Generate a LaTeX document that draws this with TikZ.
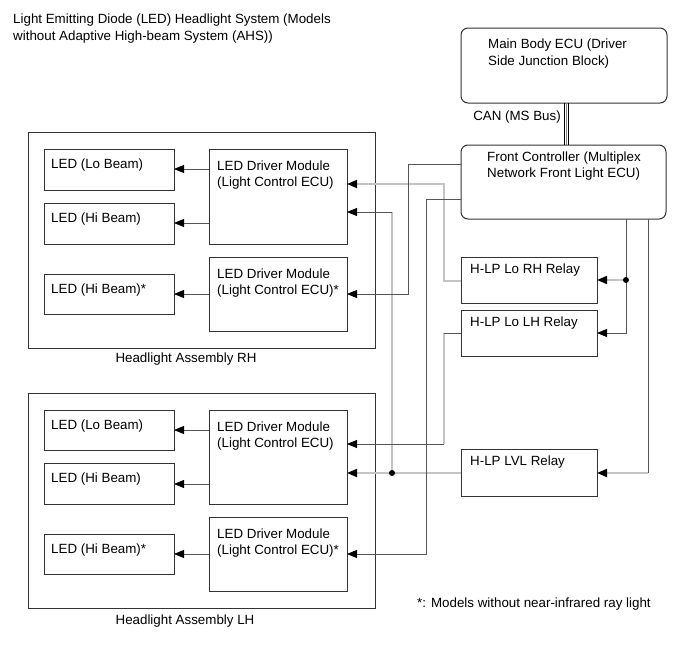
\documentclass[tikz,border=0pt]{standalone}
\usepackage{fontspec}
\setmainfont{Liberation Sans}
\usetikzlibrary{arrows.meta,calc}
\definecolor{bord}{HTML}{333333}
\definecolor{dw}{HTML}{555555}
\definecolor{gw}{HTML}{C4C4C4}
\tikzset{
 box/.style={draw=bord, line width=1pt, inner sep=0pt, outer sep=0pt, anchor=north west, fill=white},
 rbox/.style={box, rounded corners=7pt},
 txt/.style={anchor=north west, inner sep=0pt, align=left, font=\fontsize{13.35}{16.6}\selectfont},
 arr/.style={-{Triangle[length=10pt,width=8pt,color=black]}},
 dwire/.style={draw=dw, line width=0.9pt},
 gwire/.style={draw=gw, line width=1.7pt},
 jdot/.style={circle, fill=black, inner sep=0pt, minimum size=6pt},
}
\begin{document}
\begin{tikzpicture}[x=1pt,y=-1pt]
\useasboundingbox (0,0) rectangle (689,659);
% title
\node[txt] (title) at (13,14) {Light Emitting Diode (LED) Headlight System (Models\\without Adaptive High-beam System (AHS))};
% ECUs
\node[rbox, minimum width=206pt, minimum height=75pt] (mecu) at (461,28) {};
\node[txt] (mecuT) at ($(mecu.north west)+(27,11)$) {Main Body ECU (Driver\\Side Junction Block)};
\node[rbox, minimum width=205pt, minimum height=74pt] (fc) at (461,145) {};
\node[txt] (fcT) at ($(fc.north west)+(26,6.5)$) {Front Controller (Multiplex\\Network Front Light ECU)};
% CAN
\draw[line width=1pt, black] (mecu.south -| 564,0) -- (fc.north -| 564,0);
\draw[line width=1pt, gray] (mecu.south -| 566,0) -- (fc.north -| 566,0);
\draw[line width=1pt, black] (mecu.south -| 568,0) -- (fc.north -| 568,0);
\node[txt, anchor=east] (can) at (561,117) {CAN (MS Bus)};
% relays
\node[box, minimum width=136pt, minimum height=46pt] (lorh) at (461,257) {};
\node[txt] (lorhT) at ($(lorh.north west)+(9,6.5)$) {H-LP Lo RH Relay};
\node[box, minimum width=136pt, minimum height=46pt] (lolh) at (461,310) {};
\node[txt] (lolhT) at ($(lolh.north west)+(9,6.5)$) {H-LP Lo LH Relay};
\node[box, minimum width=136pt, minimum height=47pt] (lvl) at (461,449) {};
\node[txt] (lvlT) at ($(lvl.north west)+(9,6.5)$) {H-LP LVL Relay};
% RH assembly
\node[box, minimum width=347pt, minimum height=216pt] (rha) at (28,132) {};
\node[txt, anchor=north] (rhaT) at (186,353) {Headlight Assembly RH};
\node[box, minimum width=130pt, minimum height=41pt] (rled1) at (44,149) {};
\node[txt] (rled1T) at ($(rled1.north west)+(7,10)$) {LED (Lo Beam)};
\node[box, minimum width=130pt, minimum height=41pt] (rled2) at (44,203) {};
\node[txt] (rled2T) at ($(rled2.north west)+(7,10)$) {LED (Hi Beam)};
\node[box, minimum width=130pt, minimum height=40pt] (rled3) at (44,274) {};
\node[txt] (rled3T) at ($(rled3.north west)+(7,10)$) {LED (Hi Beam)*};
\node[box, minimum width=138pt, minimum height=95pt] (rdm1) at (209,149) {};
\node[txt] (rdm1T) at ($(rdm1.north west)+(8,11.5)$) {LED Driver Module\\(Light Control ECU)};
\node[box, minimum width=138pt, minimum height=74pt] (rdm2) at (209,257) {};
\node[txt] (rdm2T) at ($(rdm2.north west)+(8,11.5)$) {LED Driver Module\\(Light Control ECU)*};
% LH assembly
\node[box, minimum width=347pt, minimum height=215pt] (lha) at (28,393) {};
\node[txt, anchor=north] (lhaT) at (185,615) {Headlight Assembly LH};
\node[box, minimum width=130pt, minimum height=40pt] (lled1) at (44,410) {};
\node[txt] (lled1T) at ($(lled1.north west)+(7,10)$) {LED (Lo Beam)};
\node[box, minimum width=130pt, minimum height=41pt] (lled2) at (44,463) {};
\node[txt] (lled2T) at ($(lled2.north west)+(7,10)$) {LED (Hi Beam)};
\node[box, minimum width=130pt, minimum height=40pt] (lled3) at (44,534) {};
\node[txt] (lled3T) at ($(lled3.north west)+(7,10)$) {LED (Hi Beam)*};
\node[box, minimum width=138pt, minimum height=94pt] (ldm1) at (209,410) {};
\node[txt] (ldm1T) at ($(ldm1.north west)+(8,11.5)$) {LED Driver Module\\(Light Control ECU)};
\node[box, minimum width=138pt, minimum height=74pt] (ldm2) at (209,517) {};
\node[txt] (ldm2T) at ($(ldm2.north west)+(8,11.5)$) {LED Driver Module\\(Light Control ECU)*};
% footnote
\node[txt] (note) at (417,598) {*: Models without near-infrared ray light};
% DM -> LED
\draw[dwire,arr] (rdm1.west |- 0,169) -- (rled1.east |- 0,169);
\draw[dwire,arr] (rdm1.west |- 0,223) -- (rled2.east |- 0,223);
\draw[dwire,arr] (rdm2.west |- 0,294) -- (rled3.east |- 0,294);
\draw[dwire,arr] (ldm1.west |- 0,430) -- (lled1.east |- 0,430);
\draw[dwire,arr] (ldm1.west |- 0,484) -- (lled2.east |- 0,484);
\draw[dwire,arr] (ldm2.west |- 0,554) -- (lled3.east |- 0,554);
% coordinates
\coordinate (jd) at (392,473);
\coordinate (jf) at (626,280);
% gray wires
\draw[gwire,arr] (lorh.west |- 0,281) -- (444,281) -- (444,184) -- (rdm1.east |- 0,184);
\draw[gwire,arr] (lvl.west |- 0,473) -- (ldm1.east |- 0,473);
\draw[gwire] (jd) -- (392,212);
\draw[gwire] (444,333) -- (444,444);
\draw[gwire,arr] (jf) -- (lorh.east |- 0,280);
\draw[gwire,arr] (648,473) -- (lvl.east |- 0,473);
% dark wires
\draw[dwire,arr] (fc.west |- 0,164) -- (408,164) -- (408,294) -- (rdm2.east |- 0,294);
\draw[dwire,arr] (fc.west |- 0,199) -- (426,199) -- (426,554) -- (ldm2.east |- 0,554);
\draw[dwire,arr] (392,212) -- (rdm1.east |- 0,212);
\draw[dwire] (lolh.west |- 0,333) -- (444,333);
\draw[dwire,arr] (444,444) -- (ldm1.east |- 0,444);
\draw[dwire,arr] (fc.south -| 626,0) -- (626,333) -- (lolh.east |- 0,333);
\draw[dwire] (fc.south -| 648,0) -- (648,473);
% junction dots
\node[jdot] (jdD) at (jd) {};
\node[jdot] (jfD) at (jf) {};
\end{tikzpicture}
\end{document}
